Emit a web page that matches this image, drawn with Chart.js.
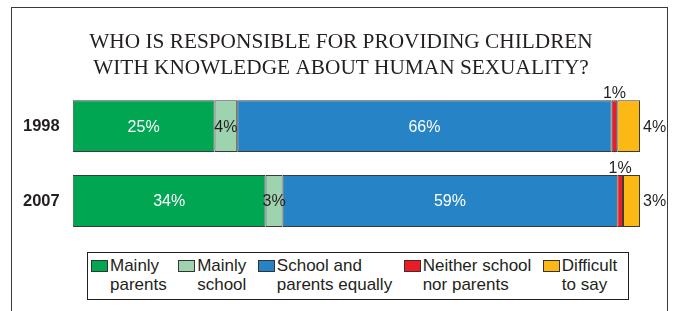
<!DOCTYPE html>
<html>
<head>
<meta charset="utf-8">
<script src="https://cdn.jsdelivr.net/npm/chart.js@4.4.0/dist/chart.umd.min.js"></script>
<style>
  html, body { margin: 0; padding: 0; background: #fff; overflow: hidden; }
  #wrap { position: relative; width: 675px; height: 311px; }
  #frame { position: absolute; left: 11px; top: 7px; width: 655px; height: 400px; border: 1.5px solid #3a3a3a; }
  #grafica { position: absolute; left: 0; top: 0; }
  #legend {
    position: absolute; left: 87px; top: 252px; width: 537px; height: 43px;
    border: 1px solid #231f20; background: #fff;
    display: flex; gap: 11.5px; padding: 3px 0 0 3px; box-sizing: content-box;
    font-family: "Liberation Sans", Arial, sans-serif; font-size: 17px; line-height: 19px; color: #231f20;
  }
  .item { display: flex; align-items: flex-start; }
  .sw { width: 15px; height: 10px; border: 1px solid #333; margin-top: 4px; margin-right: 2px; flex: none; }
</style>
</head>
<body>
<div id="wrap">
  <div id="frame"></div>
  <canvas id="grafica" width="675" height="311"></canvas>
  <div id="legend"></div>
</div>
<script>
const years = ["1998", "2007"];
const titleLines = ["WHO IS RESPONSIBLE FOR PROVIDING CHILDREN", "WITH KNOWLEDGE ABOUT HUMAN SEXUALITY?"];
const seriesNames = [["Mainly", "parents"], ["Mainly", "school"], ["School and", "parents equally"], ["Neither school", "nor parents"], ["Difficult", "to say"]];
const mainlyParents = [25, 34];
const mainlySchool = [4, 3];
const bothEqually = [66, 59];
const neitherOne = [1, 1];
const difficultSay = [4, 3];
const colores = ["#00a651", "#9ed3b0", "#2683c6", "#ed1c24", "#fdb913"];

const series = [mainlyParents, mainlySchool, bothEqually, neitherOne, difficultSay];

// where the percent label goes for each series
const labelMode = ["inside", "inside", "inside", "above", "right"];
const labelColor = ["#ffffff", "#231f20", "#ffffff", "#231f20", "#231f20"];

const etiquetas = {
  id: "etiquetas",
  afterDatasetsDraw(chart) {
    const ctx = chart.ctx;
    ctx.save();
    ctx.font = "16px 'Liberation Sans', Arial, sans-serif";
    chart.data.datasets.forEach((ds, i) => {
      const meta = chart.getDatasetMeta(i);
      meta.data.forEach((bar, j) => {
        const txt = ds.data[j] + "%";
        const left = Math.min(bar.x, bar.base), right = Math.max(bar.x, bar.base);
        const top = bar.y - bar.height / 2;
        ctx.fillStyle = labelColor[i];
        if (labelMode[i] === "inside") {
          ctx.textAlign = "center"; ctx.textBaseline = "middle";
          ctx.fillText(txt, (left + right) / 2, bar.y + 1);
        } else if (labelMode[i] === "above") {
          ctx.textAlign = "center"; ctx.textBaseline = "alphabetic";
          ctx.fillText(txt, (left + right) / 2, top - 2.5);
        } else {
          ctx.textAlign = "left"; ctx.textBaseline = "middle";
          ctx.fillText(txt, right + 3, bar.y + 1);
        }
      });
    });
    ctx.restore();
  }
};

const ctx = document.getElementById("grafica").getContext("2d");
new Chart(ctx, {
  type: "bar",
  data: {
    labels: years,
    datasets: series.map((vals, i) => ({
      label: seriesNames[i].join(" "),
      data: vals,
      backgroundColor: colores[i],
      borderColor: "#3a3a3a",
      borderWidth: 1,
      borderSkipped: false,
      barPercentage: 0.693,
      categoryPercentage: 1
    }))
  },
  options: {
    indexAxis: "y",
    responsive: false,
    animation: false,
    layout: { padding: { left: 7, right: 0, top: 0, bottom: 72.5 } },
    scales: {
      x: { stacked: true, min: 0, max: 100, display: false },
      y: {
        stacked: true,
        grid: { display: false, drawTicks: false },
        border: { display: false },
        ticks: { color: "#231f20", padding: 13, font: { family: "'Liberation Sans', Arial, sans-serif", size: 16.5, weight: "bold" } },
        afterFit(scale) { scale.width = 65.7; }
      },
      // empty axis on the right, only reserves room for the outside labels
      yRight: {
        type: "category",
        axis: "y",
        position: "right",
        grid: { display: false, drawTicks: false },
        border: { display: false },
        ticks: { display: false },
        afterFit(scale) { scale.width = 35; }
      }
    },
    plugins: {
      legend: { display: false },
      tooltip: { enabled: false },
      title: {
        display: true,
        text: titleLines,
        color: "#231f20",
        font: { family: "'Liberation Serif', 'Times New Roman', serif", size: 21.3, weight: "normal", lineHeight: 1.2 },
        padding: { top: 30, bottom: 7.6 }
      }
    }
  },
  plugins: [etiquetas]
});

const leyenda = document.getElementById("legend");
seriesNames.forEach((lines, i) => {
  const item = document.createElement("div");
  item.className = "item";
  item.innerHTML = `<span class="sw" style="background:${colores[i]}"></span><span>${lines.join("<br>")}</span>`;
  leyenda.appendChild(item);
});
</script>
</body>
</html>
